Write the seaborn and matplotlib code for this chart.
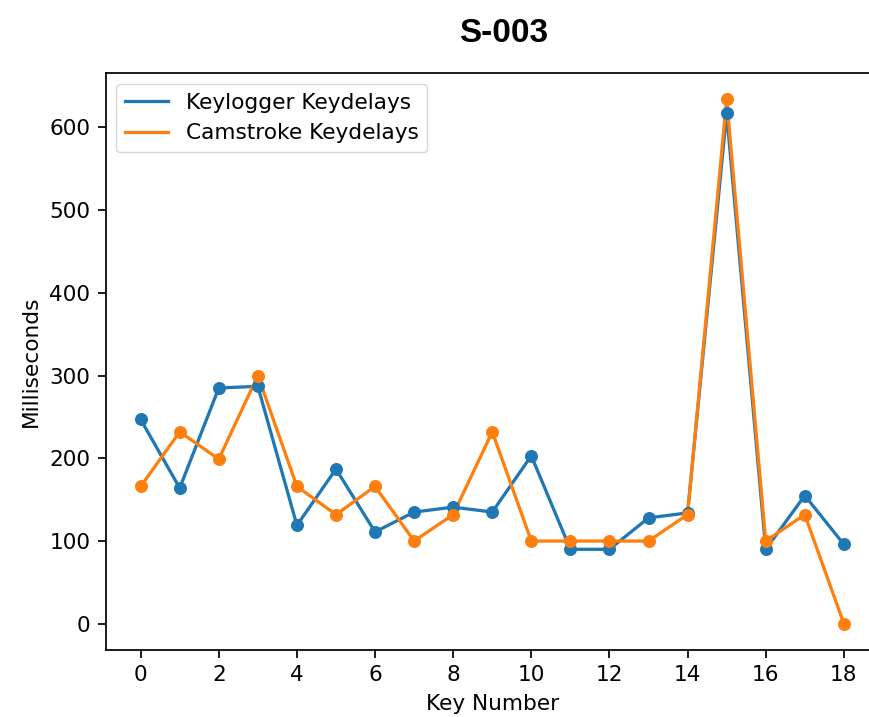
import matplotlib
matplotlib.use("Agg")
import matplotlib.pyplot as plt
import seaborn as sns
import pandas as pd

key_numbers = list(range(19))
keylogger_delays = [247, 164, 285, 287, 119, 187, 111, 135, 141, 135,
                    203, 90, 90, 128, 134, 617, 90, 155, 96]
camstroke_delays = [166, 232, 199, 300, 166, 132, 166, 100, 132, 232,
                    100, 100, 100, 100, 132, 634, 100, 132, 0]
series_names = ["Keylogger Keydelays", "Camstroke Keydelays"]
colors = ["#1f77b4", "#ff7f0e"]

# matplotlib defaults, enlarged uniformly
k = 1.56
plt.rcParams.update({
    "font.family": ["DejaVu Sans"],
    "font.size": 10 * k,
    "axes.linewidth": 0.8 * k,
    "xtick.major.size": 3.5 * k,
    "ytick.major.size": 3.5 * k,
    "xtick.major.width": 0.8 * k,
    "ytick.major.width": 0.8 * k,
    "xtick.major.pad": 3.5 * k,
    "ytick.major.pad": 3.5 * k,
    "axes.labelpad": 4.0 * k,
    "legend.fontsize": 10 * k,
})

df = pd.DataFrame({
    "key": key_numbers * 2,
    "ms": keylogger_delays + camstroke_delays,
    "series": [series_names[0]] * len(key_numbers) + [series_names[1]] * len(key_numbers),
})

fig = plt.figure(figsize=(8.69, 7.17), dpi=100)
# the axes run slightly past the right edge of the canvas
ax = fig.add_axes([105.5 / 869, 1 - 650 / 717, (879 - 105.5) / 869, (650 - 73) / 717])

for name, color in zip(series_names, colors):
    sub = df[df["series"] == name]
    sns.lineplot(data=sub, x="key", y="ms", ax=ax, color=color, linewidth=1.5 * k,
                 label=name, sort=False)
    sns.scatterplot(data=sub, x="key", y="ms", ax=ax, color=color, s=(6 * k) ** 2,
                    linewidth=0, legend=False, zorder=3)

ax.set_xticks(range(0, 19, 2))
ax.set_xlabel("Key Number")
ax.set_ylabel("Milliseconds")
ax.legend(loc="upper left")

fig.text(504 / 869, 1 - 33 / 717, "S-003", ha="center", va="center",
         fontsize=24, fontweight="bold", family=["Liberation Sans", "DejaVu Sans"])

fig.savefig("out.png", dpi=100)
